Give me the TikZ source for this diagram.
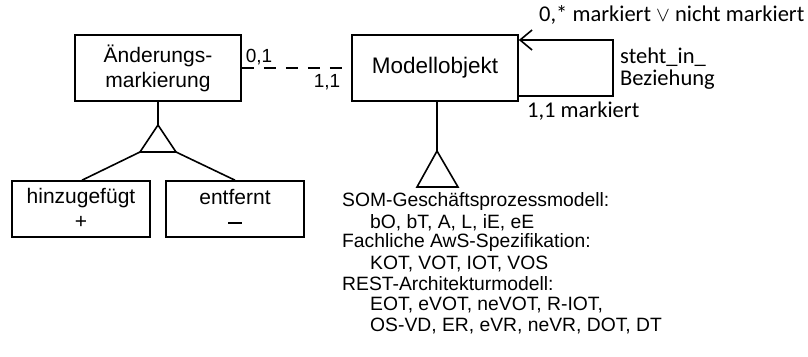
\documentclass[tikz,border=0pt]{standalone}
\usepackage{fontspec}
\setmainfont{Liberation Sans}
\newfontfamily\calfont{Carlito}
\usetikzlibrary{arrows.meta}
\begin{document}
\begin{tikzpicture}[x=1pt,y=-1pt,
  lw/.style={line width=1.6pt},
  box/.style={draw,lw,rectangle,inner sep=0pt,align=center,font=\fontsize{21}{25}\selectfont},
  card/.style={inner sep=0pt,font=\fontsize{19}{21}\selectfont},
  cal/.style={inner sep=0pt,anchor=base west,font=\calfont\fontsize{22.5}{22}\selectfont},
  blk/.style={inner sep=0pt,anchor=west,font=\fontsize{19.3}{20.7}\selectfont}]
\useasboundingbox (0,0) rectangle (808,356);
% boxes
\node[box,minimum width=166pt,minimum height=66pt] (aend) at (158,68) {Änderungs-\\markierung};
\node[box,minimum width=166pt,minimum height=66pt,font=\fontsize{22.5}{25}\selectfont] (mo) at (435,68) {Modellobjekt};
\node[box,minimum width=138pt,minimum height=56pt] (hinz) at (81,209) {};
\node[box,minimum width=138pt,minimum height=56pt] (entf) at (235,209) {};
\node[inner sep=0pt,font=\fontsize{21}{25}\selectfont,align=center] (hinzt) at (81,208) {hinzugefügt\\+};
\node[inner sep=0pt,font=\fontsize{21}{25}\selectfont,align=center] (entft) at (235,208) {entfernt\\[-2pt]\rule[0.3ex]{0.65em}{1.6pt}};
% generalization triangle 1
\coordinate (t1a) at (158,125);
\coordinate (t1l) at (140,152);
\coordinate (t1r) at (176,152);
\draw[lw] (aend.south) -- (t1a);
\draw[lw,line join=miter] (t1a) -- (t1l) -- (t1r) -- cycle;
\draw[lw] (t1l) -- (hinz.north -| 82,0);
\draw[lw] (t1r) -- (entf.north -| 235,0);
% generalization triangle 2
\coordinate (t2a) at (437,151);
\coordinate (t2l) at (417,187);
\coordinate (t2r) at (458,187);
\draw[lw] (mo.south -| t2a) -- (t2a);
\draw[lw,line join=miter] (t2a) -- (t2l) -- (t2r) -- cycle;
% dashed association
\draw[lw,dash pattern=on 12pt off 10pt] (aend.east) -- (mo.west);
\node[card] (c01) at (259,57) {0,1};
\node[card] (c11) at (327,82) {1,1};
% self loop
\draw[lw,-{Straight Barb[length=12pt,width=20pt,line width=1.6pt]}] ([yshift=-28pt]mo.east) -- ++(94,0) coordinate (lc) |- ([yshift=28pt]mo.east);
\node[cal] (l1) at (539,21) {0,* markiert \ensuremath{\vee} nicht markiert};
\node[cal,align=left] (l2) at (620,85) {steht\_in\_\\Beziehung};
\node[cal] (l4) at (527,117) {1,1 markiert};
% text block
\node[blk] (b1) at (342,202) {SOM-Geschäftsprozessmodell:};
\node[blk] (b2) at (370,223) {bO, bT, A, L, iE, eE};
\node[blk] (b3) at (342,243) {Fachliche AwS-Spezifikation:};
\node[blk] (b4) at (370,264) {KOT, VOT, IOT, VOS};
\node[blk] (b5) at (342,284) {REST-Architekturmodell:};
\node[blk] (b6) at (370,305) {EOT, eVOT, neVOT, R-IOT,};
\node[blk] (b7) at (370,326) {OS-VD, ER, eVR, neVR, DOT, DT};
\end{tikzpicture}
\end{document}
